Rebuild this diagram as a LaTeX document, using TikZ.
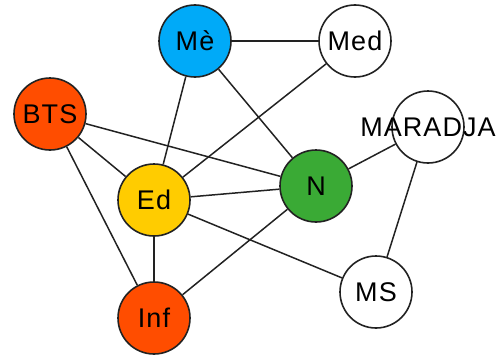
\documentclass[tikz,border=0pt]{standalone}
\usepackage{fontspec}
\setmainfont[LetterSpace=4]{Liberation Sans}
\usetikzlibrary{backgrounds}
\definecolor{cblue}{HTML}{00AAF8}
\definecolor{cred}{HTML}{FF4D00}
\definecolor{cyellow}{HTML}{FFCC00}
\definecolor{cgreen}{HTML}{3AAA35}
\definecolor{cline}{HTML}{222222}
\tikzset{
  vtx/.style={circle, draw=cline, line width=1.6pt, minimum size=72pt, inner sep=0pt, fill=white},
  lbl/.style={font=\fontsize{27}{27}\selectfont, text=black, inner sep=0pt},
  edge/.style={draw=cline, line width=1.5pt}
}
\begin{document}
\begin{tikzpicture}[x=1pt, y=-1pt]
\useasboundingbox (0,0) rectangle (497,356);
\node[vtx, fill=cblue,   label={[lbl]center:Mè}]      (me)  at (195,41)  {};
\node[vtx,               label={[lbl]center:Med}]     (med) at (355,41)  {};
\node[vtx, fill=cred,    label={[lbl]center:BTS}]     (bts) at (50,114)  {};
\node[vtx,               label={[lbl]center:MARADJA}] (mar) at (428,127) {};
\node[vtx, fill=cyellow, label={[lbl]center:Ed}]      (ed)  at (154,200) {};
\node[vtx, fill=cgreen,  label={[lbl]center:N}]       (n)   at (316,186) {};
\node[vtx,               label={[lbl]center:MS}]      (ms)  at (376,292) {};
\node[vtx, fill=cred,    label={[lbl]center:Inf}]     (inf) at (154,318) {};
\begin{scope}[on background layer]
\draw[edge] (me) -- (med);
\draw[edge] (me) -- (ed);
\draw[edge] (me) -- (n);
\draw[edge] (med) -- (ed);
\draw[edge] (bts) -- (ed);
\draw[edge] (bts) -- (n);
\draw[edge] (bts) -- (inf);
\draw[edge] (ed) -- (n);
\draw[edge] (ed) -- (inf);
\draw[edge] (ed) -- (ms);
\draw[edge] (n) -- (inf);
\draw[edge] (n) -- (mar);
\draw[edge] (mar) -- (ms);
\end{scope}
\end{tikzpicture}
\end{document}
